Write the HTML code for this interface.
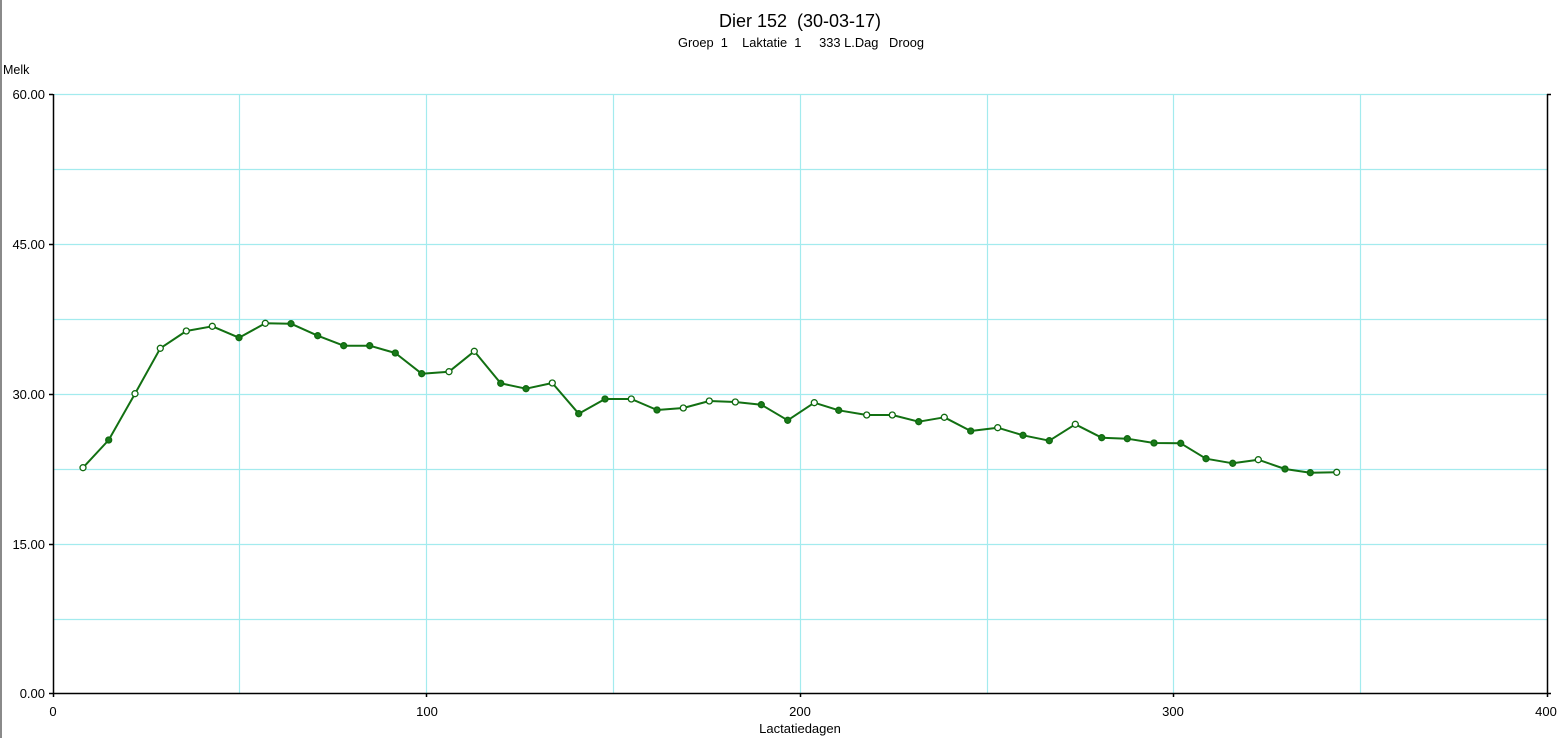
<!DOCTYPE html>
<html><head><meta charset="utf-8"><style>
html,body{margin:0;padding:0;background:#fff;}
svg{display:block;}
text{font-family:"Liberation Sans",Arial,sans-serif;fill:#000;white-space:pre;}
</style></head><body>
<svg width="1562" height="738" viewBox="0 0 1562 738" xmlns="http://www.w3.org/2000/svg">
<rect x="0" y="0" width="1562" height="738" fill="#fff"/>
<rect x="0" y="0" width="2" height="738" fill="#8a8a8a"/>
<text x="719" y="27" font-size="18" textLength="162" lengthAdjust="spacingAndGlyphs">Dier 152  (30-03-17)</text>
<text x="678" y="47" font-size="12.5" textLength="246" lengthAdjust="spacingAndGlyphs">Groep  1    Laktatie  1     333 L.Dag   Droog</text>
<text x="3" y="74" font-size="12.5">Melk</text>
<g stroke="#a3ebee" stroke-width="1.2" fill="none">
<line x1="53" y1="94.5" x2="1547" y2="94.5"/>
<line x1="53" y1="169.5" x2="1547" y2="169.5"/>
<line x1="53" y1="244.5" x2="1547" y2="244.5"/>
<line x1="53" y1="319.5" x2="1547" y2="319.5"/>
<line x1="53" y1="394.5" x2="1547" y2="394.5"/>
<line x1="53" y1="469.5" x2="1547" y2="469.5"/>
<line x1="53" y1="544.5" x2="1547" y2="544.5"/>
<line x1="53" y1="619.5" x2="1547" y2="619.5"/>
<line x1="239.5" y1="94" x2="239.5" y2="693"/>
<line x1="426.5" y1="94" x2="426.5" y2="693"/>
<line x1="613.5" y1="94" x2="613.5" y2="693"/>
<line x1="800.5" y1="94" x2="800.5" y2="693"/>
<line x1="987.5" y1="94" x2="987.5" y2="693"/>
<line x1="1173.5" y1="94" x2="1173.5" y2="693"/>
<line x1="1360.5" y1="94" x2="1360.5" y2="693"/>
</g>
<g stroke="#000" stroke-width="1.5" fill="none">
<line x1="53.5" y1="94" x2="53.5" y2="694"/>
<line x1="53" y1="693.5" x2="1551" y2="693.5"/>
<line x1="1547.5" y1="94" x2="1547.5" y2="697"/>
<line x1="1547" y1="94.5" x2="1551" y2="94.5"/>
<line x1="49" y1="94.5" x2="53" y2="94.5"/>
<line x1="49" y1="244.5" x2="53" y2="244.5"/>
<line x1="49" y1="394.5" x2="53" y2="394.5"/>
<line x1="49" y1="544.5" x2="53" y2="544.5"/>
<line x1="49" y1="693.5" x2="53" y2="693.5"/>
<line x1="53.5" y1="693" x2="53.5" y2="697"/>
<line x1="426.5" y1="693" x2="426.5" y2="697"/>
<line x1="800.5" y1="693" x2="800.5" y2="697"/>
<line x1="1173.5" y1="693" x2="1173.5" y2="697"/>
</g>
<g font-size="13" text-anchor="end">
<text x="45" y="99">60.00</text>
<text x="45" y="249">45.00</text>
<text x="45" y="399">30.00</text>
<text x="45" y="549">15.00</text>
<text x="45" y="698">0.00</text>
</g>
<g font-size="13" text-anchor="middle">
<text x="53" y="716">0</text>
<text x="427" y="716">100</text>
<text x="800" y="716">200</text>
<text x="1173" y="716">300</text>
<text x="1546" y="716">400</text>
<text x="800" y="733">Lactatiedagen</text>
</g>
<polyline fill="none" stroke="#127012" stroke-width="2" stroke-linejoin="round" points="83,467.7 108.7,440 135,393.7 160.3,348.3 186.3,331 212.3,326.3 239,337.7 265.3,323.3 291,323.7 317.7,335.7 343.7,345.7 369.7,345.7 395.3,353 421.7,373.7 449,371.7 474.3,351.3 500.7,383.3 526,388.7 552.3,383 578.7,413.7 605,399 631.3,399 657,410 683.3,408 709.3,401 735.3,402 761.3,404.7 787.7,420.3 814.3,402.7 838.7,410.3 866.7,415 892.3,415 918.7,421.7 944.3,417.3 970.7,431 997.7,427.7 1023,435.3 1049.3,440.7 1075.3,424.3 1101.7,437.7 1127.3,438.7 1154,443 1180.7,443.3 1206,458.7 1232.7,463.3 1258.3,459.7 1285,469 1310.3,472.7 1336.7,472.3"/>
<g fill="#1a7a1a" stroke="#0f6a0f" stroke-width="1.3">
<circle cx="83" cy="467.7" r="3" fill="#fff"/>
<circle cx="108.7" cy="440" r="3"/>
<circle cx="135" cy="393.7" r="3" fill="#fff"/>
<circle cx="160.3" cy="348.3" r="3" fill="#fff"/>
<circle cx="186.3" cy="331" r="3" fill="#fff"/>
<circle cx="212.3" cy="326.3" r="3" fill="#fff"/>
<circle cx="239" cy="337.7" r="3"/>
<circle cx="265.3" cy="323.3" r="3" fill="#fff"/>
<circle cx="291" cy="323.7" r="3"/>
<circle cx="317.7" cy="335.7" r="3"/>
<circle cx="343.7" cy="345.7" r="3"/>
<circle cx="369.7" cy="345.7" r="3"/>
<circle cx="395.3" cy="353" r="3"/>
<circle cx="421.7" cy="373.7" r="3"/>
<circle cx="449" cy="371.7" r="3" fill="#fff"/>
<circle cx="474.3" cy="351.3" r="3" fill="#fff"/>
<circle cx="500.7" cy="383.3" r="3"/>
<circle cx="526" cy="388.7" r="3"/>
<circle cx="552.3" cy="383" r="3" fill="#fff"/>
<circle cx="578.7" cy="413.7" r="3"/>
<circle cx="605" cy="399" r="3"/>
<circle cx="631.3" cy="399" r="3" fill="#fff"/>
<circle cx="657" cy="410" r="3"/>
<circle cx="683.3" cy="408" r="3" fill="#fff"/>
<circle cx="709.3" cy="401" r="3" fill="#fff"/>
<circle cx="735.3" cy="402" r="3" fill="#fff"/>
<circle cx="761.3" cy="404.7" r="3"/>
<circle cx="787.7" cy="420.3" r="3"/>
<circle cx="814.3" cy="402.7" r="3" fill="#fff"/>
<circle cx="838.7" cy="410.3" r="3"/>
<circle cx="866.7" cy="415" r="3" fill="#fff"/>
<circle cx="892.3" cy="415" r="3" fill="#fff"/>
<circle cx="918.7" cy="421.7" r="3"/>
<circle cx="944.3" cy="417.3" r="3" fill="#fff"/>
<circle cx="970.7" cy="431" r="3"/>
<circle cx="997.7" cy="427.7" r="3" fill="#fff"/>
<circle cx="1023" cy="435.3" r="3"/>
<circle cx="1049.3" cy="440.7" r="3"/>
<circle cx="1075.3" cy="424.3" r="3" fill="#fff"/>
<circle cx="1101.7" cy="437.7" r="3"/>
<circle cx="1127.3" cy="438.7" r="3"/>
<circle cx="1154" cy="443" r="3"/>
<circle cx="1180.7" cy="443.3" r="3"/>
<circle cx="1206" cy="458.7" r="3"/>
<circle cx="1232.7" cy="463.3" r="3"/>
<circle cx="1258.3" cy="459.7" r="3" fill="#fff"/>
<circle cx="1285" cy="469" r="3"/>
<circle cx="1310.3" cy="472.7" r="3"/>
<circle cx="1336.7" cy="472.3" r="3" fill="#fff"/>
</g>
</svg>
</body></html>
